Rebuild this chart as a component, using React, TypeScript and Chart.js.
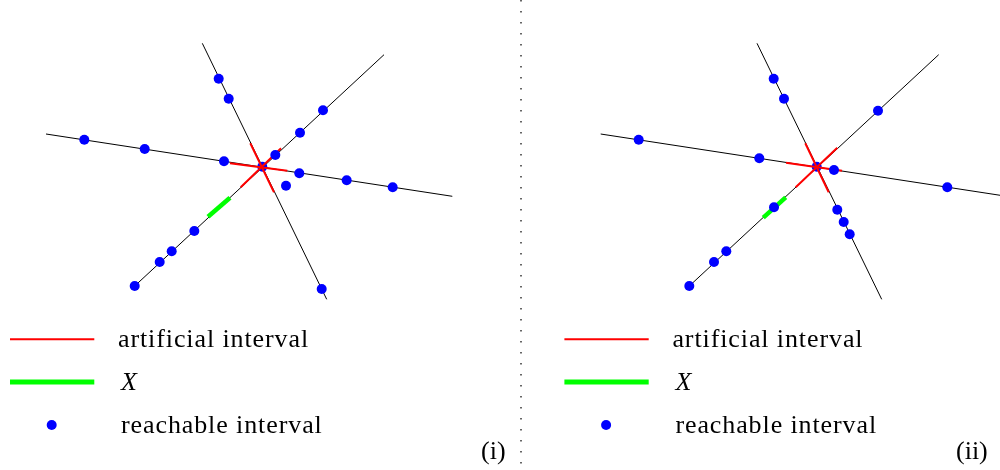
import React, { useEffect, useRef } from "react";
import { Chart, registerables } from "chart.js";

Chart.register(...registerables);

type Seg = [number, number, number, number];
type Pt = [number, number];

// Panel (i)
const AXES_I: Seg[] = [
  [202.3, 43.3, 326.7, 299.3],
  [384.0, 54.7, 134.7, 286.0],
  [46.0, 134.0, 452.3, 196.3],
];
const ARTIFICIAL_I: Seg[] = [
  [250.3, 143.3, 274.0, 192.3],
  [281.0, 148.3, 240.7, 187.3],
  [230.0, 163.3, 287.3, 170.7],
];
const X_I: Seg[] = [[208.0, 216.7, 230.0, 197.7]];
const CENTER_I: Pt[] = [[262.3, 166.7]];
const REACHABLE_I: Pt[] = [
  [218.7, 78.7], [228.7, 98.7], [286.0, 185.7], [321.7, 289.0],
  [323.0, 110.3], [300.0, 132.7], [275.3, 155.0], [194.3, 231.0], [171.7, 251.3], [159.7, 262.0], [134.7, 286.0],
  [84.3, 139.7], [144.7, 149.0], [224.0, 161.3], [299.3, 173.3], [346.7, 180.3], [392.7, 187.3],
];

// Panel (ii)
const AXES_II: Seg[] = [
  [757.0, 43.3, 881.7, 299.3],
  [938.7, 54.7, 689.3, 286.0],
  [600.7, 134.0, 1006.7, 196.3],
];
const ARTIFICIAL_II: Seg[] = [
  [805.3, 143.3, 828.7, 192.3],
  [837.3, 147.7, 795.7, 187.3],
  [786.0, 162.7, 842.0, 170.7],
];
const X_II: Seg[] = [[763.3, 217.7, 785.7, 197.3]];
const CENTER_II: Pt[] = [[816.7, 166.7]];
const REACHABLE_II: Pt[] = [
  [773.7, 78.7], [784.0, 98.7], [837.3, 209.7], [843.7, 222.0], [849.7, 234.3],
  [878.0, 110.7], [774.0, 207.3], [726.3, 251.3], [714.0, 262.0], [689.3, 286.0],
  [638.7, 139.7], [759.3, 158.3], [834.0, 170.0], [947.3, 187.3],
];

// Legend swatches
const LEGEND_ARTIFICIAL: Seg[] = [[10, 339.3, 94.3, 339.3], [564.4, 339.3, 648.7, 339.3]];
const LEGEND_X: Seg[] = [[10, 382, 94.3, 382], [564.4, 382, 648.7, 382]];
const LEGEND_REACHABLE: Pt[] = [[51.7, 425], [606.1, 425]];
const DIVIDER: Seg[] = [[521, 0, 521, 470]];

const LEGEND_LABELS = ["artificial interval", "X", "reachable interval"];
const PANEL_LABELS = ["(i)", "(ii)"];

function segDatasets(segs: Seg[], color: string, width: number, order: number, dash?: number[]) {
  return segs.map((s) => ({
    type: "line" as const,
    data: [{ x: s[0], y: s[1] }, { x: s[2], y: s[3] }],
    borderColor: color,
    borderWidth: width,
    borderDash: dash || [],
    pointRadius: 0,
    showLine: true,
    fill: false,
    tension: 0,
    order,
    clip: false as any,
  }));
}

function ptDataset(pts: Pt[], order: number, r = 5) {
  return {
    type: "scatter" as const,
    data: pts.map((p) => ({ x: p[0], y: p[1] })),
    backgroundColor: "#0000ff",
    borderColor: "#0000ff",
    borderWidth: 0,
    pointRadius: r,
    showLine: false,
    order,
    clip: false as any,
  };
}

export default function App() {
  const ref = useRef<HTMLCanvasElement | null>(null);

  useEffect(() => {
    if (!ref.current) return;
    const datasets: any[] = [
      ...segDatasets(DIVIDER, "#333333", 1.5, 9, [1.5, 9.5]),
      ...segDatasets(AXES_I, "#000000", 1, 8),
      ...segDatasets(AXES_II, "#000000", 1, 8),
      ptDataset(CENTER_I, 7),
      ptDataset(CENTER_II, 7),
      ...segDatasets(ARTIFICIAL_I, "#ff0000", 2, 6),
      ...segDatasets(ARTIFICIAL_II, "#ff0000", 2, 6),
      ...segDatasets(X_I, "#00ff00", 4.5, 5),
      ...segDatasets(X_II, "#00ff00", 4.5, 5),
      ptDataset(REACHABLE_I, 1),
      ptDataset(REACHABLE_II, 1),
      ...segDatasets(LEGEND_ARTIFICIAL, "#ff0000", 2, 2),
      ...segDatasets(LEGEND_X, "#00ff00", 5, 2),
      ptDataset(LEGEND_REACHABLE, 1),
    ];
    const chart = new Chart(ref.current, {
      type: "scatter",
      data: { datasets },
      options: {
        animation: false,
        responsive: false,
        maintainAspectRatio: false,
        events: [],
        layout: { padding: 0, autoPadding: false } as any,
        plugins: { legend: { display: false }, tooltip: { enabled: false } },
        scales: {
          x: { type: "linear", min: 0, max: 1000, display: false },
          y: { type: "linear", min: 0, max: 470, reverse: true, display: false },
        },
      },
    });
    return () => chart.destroy();
  }, []);

  const textStyle: React.CSSProperties = {
    position: "absolute",
    fontFamily: "'Liberation Serif', serif",
    fontSize: "26px",
    lineHeight: "26px",
    color: "#000",
    whiteSpace: "nowrap",
    letterSpacing: "0.9px",
  };
  const offsets = [0, 554.4];
  const rows = [
    { x: 118, top: 326 },
    { x: 121, top: 369 },
    { x: 121, top: 412 },
  ];

  return (
    <div style={{ position: "absolute", left: 0, top: 0, width: 1000, height: 470, background: "#fff" }}>
      <canvas ref={ref} width={1000} height={470} style={{ position: "absolute", left: 0, top: 0, width: 1000, height: 470 }} />
      {offsets.map((o, pi) =>
        LEGEND_LABELS.map((lab, li) => (
          <span
            key={`${pi}-${li}`}
            style={{
              ...textStyle,
              left: rows[li].x + o,
              top: rows[li].top,
              fontStyle: li === 1 ? "italic" : "normal",
            }}
          >
            {lab}
          </span>
        ))
      )}
      <span style={{ ...textStyle, left: 481, top: 438, letterSpacing: "0px" }}>{PANEL_LABELS[0]}</span>
      <span style={{ ...textStyle, left: 956, top: 438, letterSpacing: "0px" }}>{PANEL_LABELS[1]}</span>
    </div>
  );
}
